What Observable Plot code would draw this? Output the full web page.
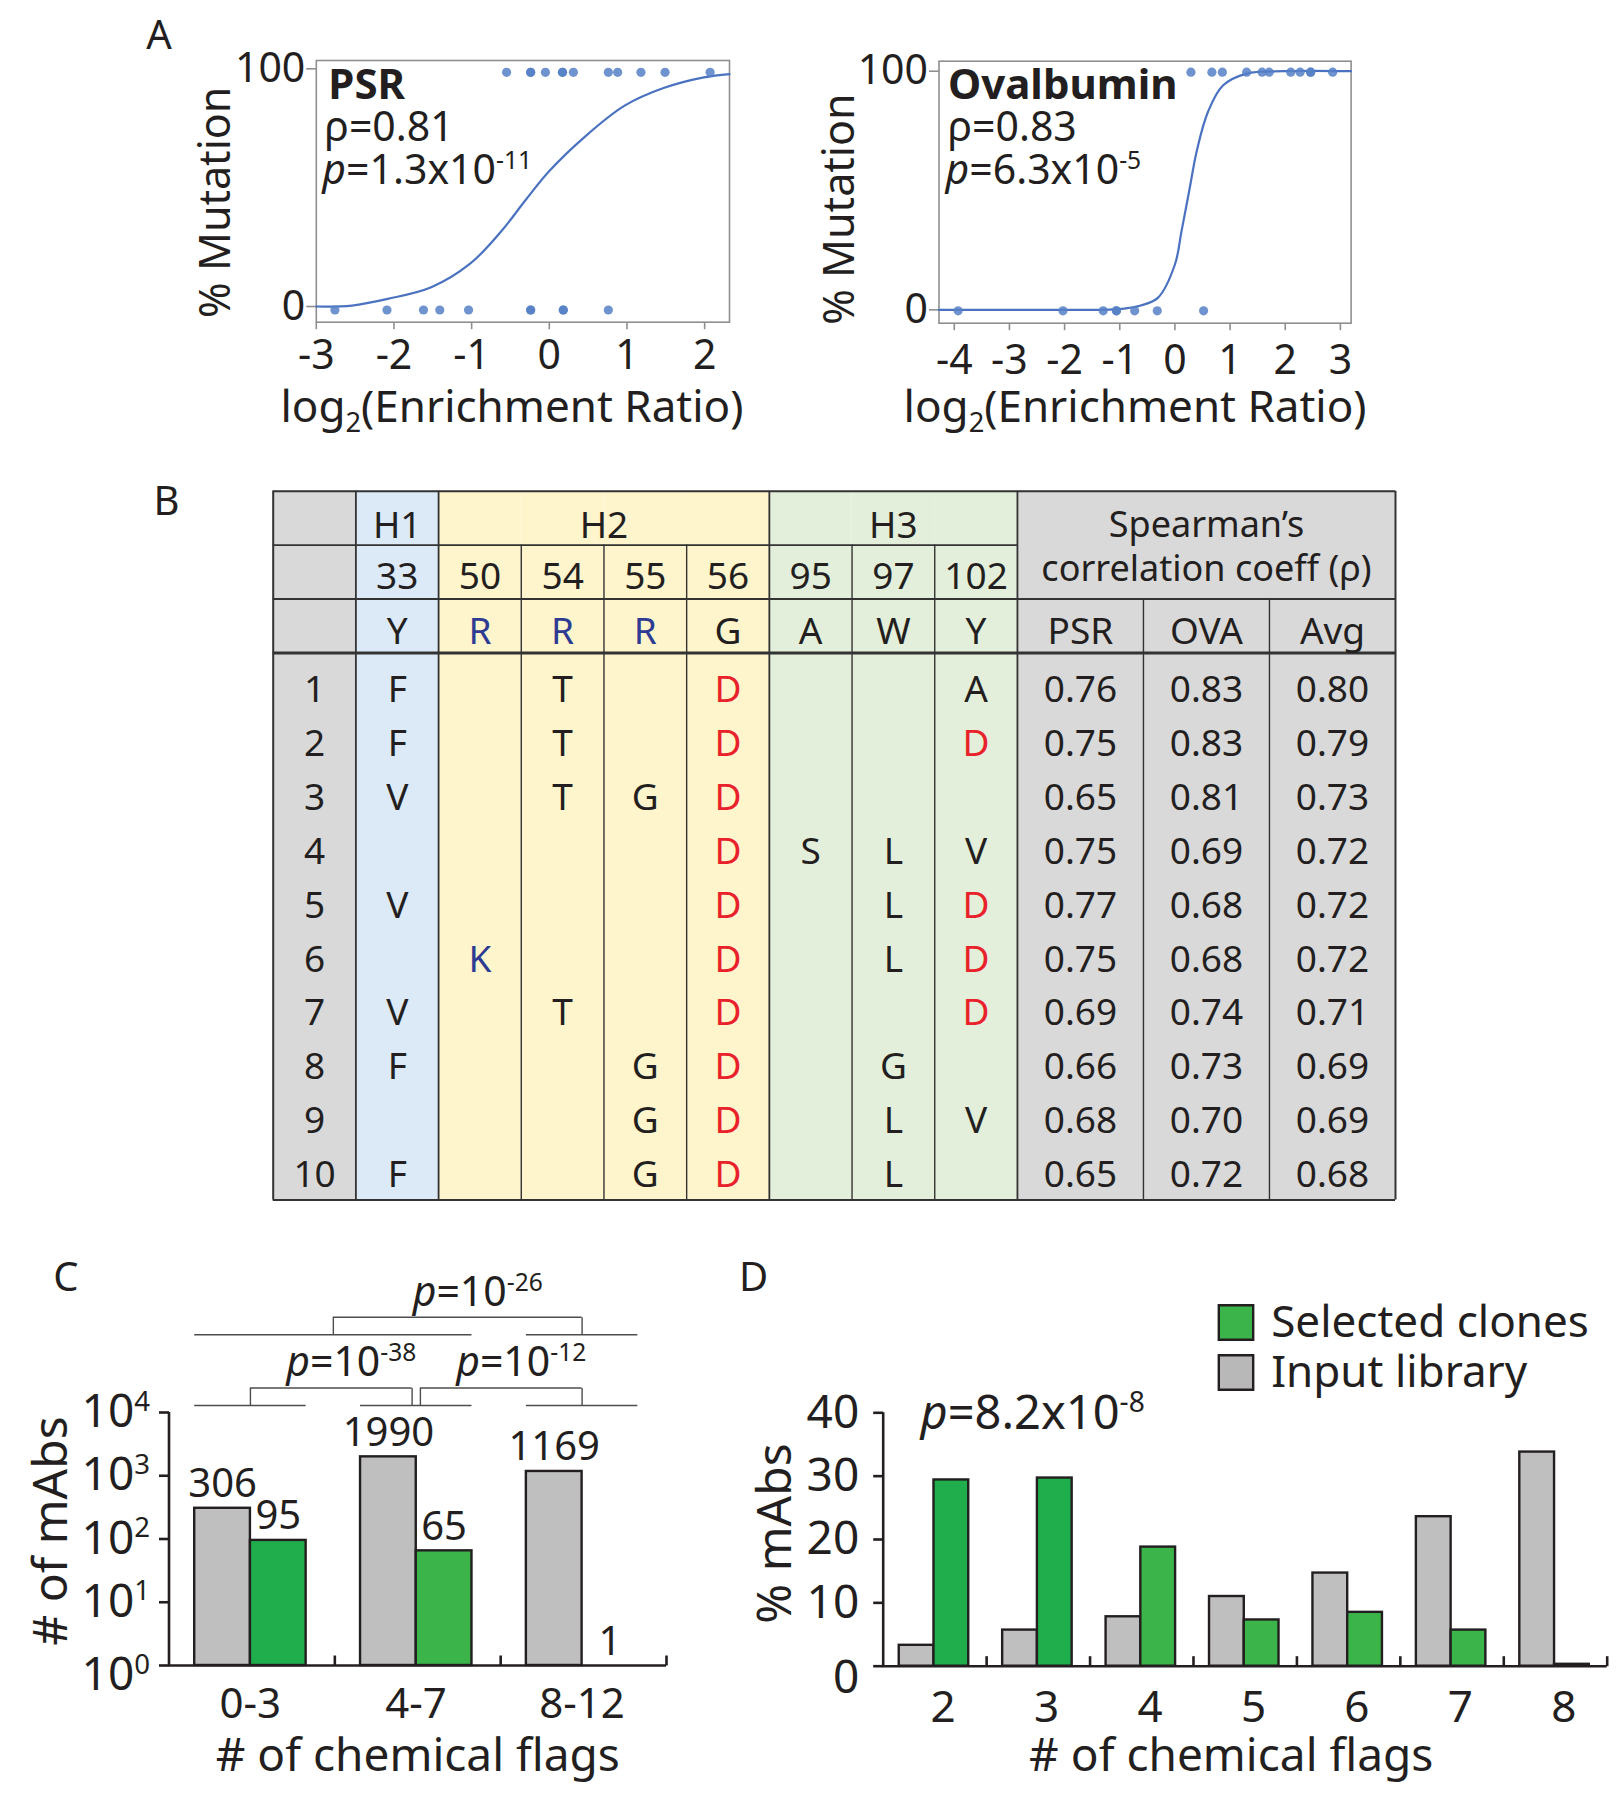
<!DOCTYPE html>
<html><head><meta charset="utf-8">
<script src="https://cdn.jsdelivr.net/npm/d3@7"></script>
<script src="https://cdn.jsdelivr.net/npm/@observablehq/plot@0.6"></script>
<style>
html,body{margin:0;padding:0;background:#fff;}
#fig{position:relative;width:1622px;height:1800px;background:#fff;overflow:hidden;}
</style></head><body><div id="fig"></div>
<script>
// ---------------- DATA ----------------
// Panel A (PSR)
const psrCurveX = [-3, -2.54, -2.08, -1.52, -1.02, -0.61, -0.31, 0, 0.46, 0.97, 1.48, 1.99, 2.32];
const psrCurveY = [0, 0.4, 3.2, 8.1, 18, 32, 44.6, 57, 71.5, 84.5, 92, 96.4, 97.8];
const psrMutatedX = [-0.55, -0.24, -0.24, -0.05, 0.17, 0.17, 0.31, 0.76, 0.88, 1.18, 1.49, 2.07];
const psrWildX = [-2.76, -2.09, -1.62, -1.41, -1.04, -0.24, -0.24, 0.18, 0.18, 0.76];
// Panel A (Ovalbumin)
const ovaCurveX = [-4.28, -2, -1, -0.62, -0.31, 0, 0.12, 0.26, 0.4, 0.6, 0.87, 1.3, 2, 3.19];
const ovaCurveY = [0, 0, 0.3, 1.8, 5, 19, 33, 50, 67, 83, 94, 99, 100, 100];
const ovaMutatedX = [0.29, 0.67, 0.86, 1.30, 1.58, 1.71, 2.10, 2.27, 2.46, 2.46, 2.86];
const ovaWildX = [-3.93, -2.03, -1.30, -1.06, -1.06, -0.73, -0.32, 0.52];

// Panel B (table)
const residuePositions = ["33", "50", "54", "55", "56", "95", "97", "102"];
const cdrOfPosition = ["H1", "H2", "H2", "H2", "H2", "H3", "H3", "H3"];
const wildTypeResidues = ["Y", "R", "R", "R", "G", "A", "W", "Y"];
const variantMutations = [
  ["F", "", "T", "", "D", "", "", "A"],
  ["F", "", "T", "", "D", "", "", "D"],
  ["V", "", "T", "G", "D", "", "", ""],
  ["", "", "", "", "D", "S", "L", "V"],
  ["V", "", "", "", "D", "", "L", "D"],
  ["", "K", "", "", "D", "", "L", "D"],
  ["V", "", "T", "", "D", "", "", "D"],
  ["F", "", "", "G", "D", "", "G", ""],
  ["", "", "", "G", "D", "", "L", "V"],
  ["F", "", "", "G", "D", "", "L", ""]
];
const spearmanColumns = ["PSR", "OVA", "Avg"];
const psrRho = [0.76, 0.75, 0.65, 0.75, 0.77, 0.75, 0.69, 0.66, 0.68, 0.65];
const ovaRho = [0.83, 0.83, 0.81, 0.69, 0.68, 0.68, 0.74, 0.73, 0.70, 0.72];
const avgRho = [0.80, 0.79, 0.73, 0.72, 0.72, 0.72, 0.71, 0.69, 0.69, 0.68];

// Panel C
const flagBins = ["0-3", "4-7", "8-12"];
const inputCounts = [306, 1990, 1169];
const selectedCounts = [95, 65, 1];
const cTestA = [["0-3"], ["4-7"], ["0-3", "4-7"]];
const cTestB = [["4-7"], ["8-12"], ["8-12"]];
const cTestExponent = [-38, -12, -26];
const cTestLevel = [0, 0, 1];
const cYTicks = [1, 10, 100, 1000, 10000];

// Panel D
const flagCounts = [2, 3, 4, 5, 6, 7, 8];
const inputPct = [3.3, 5.7, 7.8, 11.0, 14.7, 23.6, 33.8];
const selectedPct = [29.4, 29.7, 18.8, 7.3, 8.5, 5.7, 0.3];
const dYTicks = [0, 10, 20, 30, 40];
const legendLabels = ["Selected clones", "Input library"];

// ---------------- STYLE ----------------
const INK = "#231f20";
const FRAME_GRAY = "#8f8f8f";
const CURVE_BLUE = "#4a72c0";
const DOT_BLUE = "#5680c6";
const GRAY_BAR = "#bfbfbf";
const GREEN_DARK = "#1fae4b";
const GREEN = "#3bb44a";
const FONT = "'Noto Sans', 'Open Sans', sans-serif";
const style = fs => ({background: "transparent", color: INK, fontFamily: FONT, fontSize: fs + "px", overflow: "visible"});
const tickSym = (dx, dy) => ({draw(ctx) { ctx.moveTo(0, 0); ctx.lineTo(dx, dy); }});

const fig = document.getElementById("fig");
function place(svg, left, top) {
  svg.style.position = "absolute";
  svg.style.left = left + "px";
  svg.style.top = top + "px";
  fig.appendChild(svg);
  return svg;
}

// ---------------- PANEL A ----------------
function sigmoidPanel(o) {
  const xTicks = d3.range(o.xTickMin, o.xTickMax + 1);
  const yTicks = [0, 100];
  const curve = o.curveX.map((x, i) => ({x, y: o.curveY[i]}));
  const pts = [...o.hiX.map(x => ({x, y: 100})), ...o.loX.map(x => ({x, y: 0}))];
  const marks = [
    Plot.frame({stroke: FRAME_GRAY, strokeWidth: 1.6}),
    Plot.dot(xTicks, {x: d => d, y: o.yDomain[0], symbol: tickSym(0, 7), r: 5, fill: "none", stroke: FRAME_GRAY, strokeWidth: 1.6}),
    Plot.text(xTicks, {x: d => d, y: o.yDomain[0], text: d => String(d), dy: o.xTickDy, lineAnchor: "bottom", fontSize: 41, fill: INK}),
    Plot.dot(yTicks, {x: o.xDomain[0], y: d => d, symbol: tickSym(-10, 0), r: 5, fill: "none", stroke: FRAME_GRAY, strokeWidth: 1.6}),
    Plot.text(yTicks, {x: o.xDomain[0], y: d => d, text: d => String(d), dx: -11, textAnchor: "end", lineAnchor: "middle", fontSize: 41, fill: INK}),
    Plot.line(curve, {x: "x", y: "y", curve: "catmull-rom", stroke: CURVE_BLUE, strokeWidth: 2.2}),
    Plot.dot(pts, {x: "x", y: "y", r: 4.6, fill: DOT_BLUE, fillOpacity: 0.85, dy: o.dotDy}),
    Plot.text([o.name], {text: d => d, frameAnchor: "top-left", dx: o.nameDx, dy: o.nameDy, textAnchor: "start", lineAnchor: "bottom", fontWeight: "bold", fontSize: 42, fill: INK}),
    Plot.text([o.rho], {text: d => d, frameAnchor: "top-left", dx: o.rhoDx, dy: o.rhoDy, textAnchor: "start", lineAnchor: "bottom", fontSize: 41, fill: INK}),
    Plot.text([o.p], {text: d => d, frameAnchor: "top-left", dx: o.pDx, dy: o.pDy, textAnchor: "start", lineAnchor: "bottom", fontSize: 41, fill: INK}),
    Plot.text(["% Mutation"], {text: d => d, frameAnchor: "left", rotate: -90, dx: o.yLabDx, dy: o.yLabDy, textAnchor: "middle", lineAnchor: "bottom", fontSize: 43, fill: INK}),
    Plot.text(["log<sub>2</sub>(Enrichment Ratio)"], {text: d => d, frameAnchor: "bottom", dx: o.xLabDx, dy: o.xLabDy, textAnchor: "middle", lineAnchor: "bottom", fontSize: 44, fill: INK})
  ];
  if (o.letter) marks.push(Plot.text([o.letter], {text: d => d, frameAnchor: "top-left", dx: -170, dy: -11.7, textAnchor: "start", lineAnchor: "bottom", fontSize: 40, fill: INK}));
  return Plot.plot({
    width: o.width, height: o.height,
    marginLeft: o.mL, marginRight: o.mR, marginTop: o.mT, marginBottom: o.mB,
    x: {domain: o.xDomain, axis: null}, y: {domain: o.yDomain, axis: null},
    style: style(40),
    marks
  });
}

place(sigmoidPanel({
  width: 760, height: 450, mL: 315.8, mR: 31, mT: 60, mB: 128.3,
  xDomain: [-3, 2.32], yDomain: [-6.6, 103.5], xTickMin: -3, xTickMax: 2, xTickDy: 47, dotDy: 3.5,
  curveX: psrCurveX, curveY: psrCurveY, hiX: psrMutatedX, loX: psrWildX,
  name: "PSR", nameDx: 12, nameDy: 38.3,
  rho: "ρ=0.81", rhoDx: 8, rhoDy: 80,
  p: "<i>p</i>=1.3x10<sup>-11</sup>", pDx: 6, pDy: 123.3,
  yLabDx: -85.8, yLabDy: 11, xLabDx: -11, xLabDy: 99.3, letter: "A"
}), 0, 0);

place(sigmoidPanel({
  width: 862, height: 450, mL: 178.5, mR: 271.4, mT: 60.7, mB: 127.3,
  xDomain: [-4.277, 3.194], yDomain: [-5.6, 104.2], xTickMin: -4, xTickMax: 3, xTickDy: 51, dotDy: 1,
  curveX: ovaCurveX, curveY: ovaCurveY, hiX: ovaMutatedX, loX: ovaWildX,
  name: "Ovalbumin", nameDx: 9, nameDy: 37.6,
  rho: "ρ=0.83", rhoDx: 8.4, rhoDy: 79.3,
  p: "<i>p</i>=6.3x10<sup>-5</sup>", pDx: 6.5, pDy: 122.6,
  yLabDx: -85.5, yLabDy: 17, xLabDx: -10, xLabDy: 98.3
}), 760, 0);

// ---------------- PANEL B (table) ----------------
{
  const colWeights = [1, ...residuePositions.map(() => 1), ...spearmanColumns.map(() => 1.524)];
  const edges = Array.from(d3.cumsum([0, ...colWeights]));
  const nCols = colWeights.length;
  const TOTAL = edges[nCols];
  const HEADER = 3, GAP = 0.15, NROWS = variantMutations.length;
  const YMAX = HEADER + GAP + NROWS;
  const groupOf = c => c === 0 ? "label" : c <= residuePositions.length ? cdrOfPosition[c - 1] : "Spearman";
  const FILL = {label: "#d9d9d9", H1: "#dceaf7", H2: "#fff5cc", H3: "#e3efda", Spearman: "#d9d9d9"};
  const resColor = r => "DE".includes(r) ? "#e8212a" : "KRH".includes(r) ? "#2e3b93" : INK;
  const cols = d3.range(nCols);
  const mid = c => (edges[c] + edges[c + 1]) / 2;
  const rowY = i => HEADER + GAP + 0.5 + i;

  const hLines = [
    {y: 0, x1: 0, x2: TOTAL, w: 2}, {y: 1, x1: 0, x2: edges[residuePositions.length + 1], w: 1.8},
    {y: 2, x1: 0, x2: TOTAL, w: 1.8}, {y: HEADER, x1: 0, x2: TOTAL, w: 3}, {y: YMAX, x1: 0, x2: TOTAL, w: 2}
  ];
  const vLines = [{x: 0, y1: 0, w: 2}, {x: TOTAL, y1: 0, w: 2}];
  for (let c = 1; c < nCols; c++) {
    const a = groupOf(c - 1), b = groupOf(c);
    vLines.push({x: edges[c], y1: a !== b ? 0 : b === "Spearman" ? 2 : 1, w: a !== b ? 1.8 : 1.4});
  }
  const cdrGroups = Array.from(new Set(cdrOfPosition)).map(g => {
    const idx = cdrOfPosition.map((v, i) => v === g ? i + 1 : -1).filter(i => i >= 0);
    return {g, x: (edges[d3.min(idx)] + edges[d3.max(idx) + 1]) / 2};
  });
  const spX = (edges[residuePositions.length + 1] + TOTAL) / 2;
  const cells = [];
  variantMutations.forEach((row, i) => {
    cells.push({c: 0, i, t: String(i + 1), fill: INK});
    row.forEach((m, k) => { if (m) cells.push({c: k + 1, i, t: m, fill: resColor(m)}); });
    [psrRho, ovaRho, avgRho].forEach((arr, k) => cells.push({c: residuePositions.length + 1 + k, i, t: arr[i].toFixed(2), fill: INK}));
  });
  const wtCells = [
    ...wildTypeResidues.map((r, k) => ({c: k + 1, t: r, fill: resColor(r)})),
    ...spearmanColumns.map((s, k) => ({c: residuePositions.length + 1 + k, t: s, fill: INK}))
  ];
  const T = 37;
  place(Plot.plot({
    width: 1320, height: 740, marginLeft: 172.7, marginRight: 25, marginTop: 20.7, marginBottom: 10.5,
    x: {domain: [0, TOTAL], axis: null}, y: {domain: [0, YMAX], reverse: true, axis: null},
    style: style(T),
    marks: [
      Plot.rect(cols, {x1: c => edges[c], x2: c => edges[c + 1], y1: 0, y2: YMAX, fill: c => FILL[groupOf(c)]}),
      Plot.ruleX(vLines, {x: "x", y1: "y1", y2: YMAX, stroke: "#333", strokeWidth: "w"}),
      Plot.ruleY(hLines, {y: "y", x1: "x1", x2: "x2", stroke: "#333", strokeWidth: "w"}),
      Plot.text(cdrGroups, {x: "x", y: 0.5, text: "g", dy: 7.8, lineAnchor: "middle", fontSize: T, fill: INK}),
      Plot.text(["Spearman’s"], {text: d => d, x: spX, y: 0.5, dy: 7.8, lineAnchor: "middle", fontSize: 36, fill: INK}),
      Plot.text(["correlation coeff (ρ)"], {text: d => d, x: spX, y: 1.5, dy: -3, lineAnchor: "middle", fontSize: 36, fill: INK}),
      Plot.text(residuePositions, {x: (d, k) => mid(k + 1), y: 1.5, text: d => d, dy: 5.6, lineAnchor: "middle", fontSize: T, fill: INK}),
      Plot.text(wtCells, {x: d => mid(d.c), y: 2.5, text: "t", fill: "fill", dy: 5.9, lineAnchor: "middle", fontSize: T}),
      Plot.text(cells, {x: d => mid(d.c), y: d => rowY(d.i), text: "t", fill: "fill", dy: 2.3, lineAnchor: "middle", fontSize: T}),
      Plot.text(["B"], {text: d => d, frameAnchor: "top-left", dx: -119.7, dy: 23.3, textAnchor: "start", lineAnchor: "bottom", fontSize: 40, fill: INK})
    ]
  }), 100, 470);
}

// ---------------- shared bar helpers ----------------
const SLOT = {input: [0.155, 0.491], selected: [0.491, 0.827]};

// ---------------- PANEL C ----------------
{
  const greenShade = [GREEN_DARK, GREEN, GREEN];
  const bars = flagBins.flatMap((g, i) => [
    {i, s: "input", v: inputCounts[i], fill: GRAY_BAR},
    {i, s: "selected", v: selectedCounts[i], fill: greenShade[i]}
  ]);
  const span = gs => { const idx = gs.map(g => flagBins.indexOf(g)); return [d3.min(idx) + SLOT.input[0], d3.max(idx) + SLOT.selected[1]]; };
  const UNDER_DY = [-7, -77.7], DROP = 17.5, TEXT_DY = [-37, -107], NUDGE = 0.025;
  const same = (a, b) => a.join() === b.join();
  const underlines = [], seen = new Set(), brackets = [];
  cTestA.forEach((A, t) => {
    const B = cTestB[t], L = cTestLevel[t];
    for (const gs of [A, B]) {
      const k = L + "|" + gs.join();
      if (!seen.has(k)) { seen.add(k); const [x1, x2] = span(gs); underlines.push({x1, x2, L}); }
    }
    const sa = span(A), sb = span(B);
    let xa = (sa[0] + sa[1]) / 2, xb = (sb[0] + sb[1]) / 2;
    if (cTestA.some((A2, u) => u !== t && cTestLevel[u] === L && same(A2, B))) xb -= NUDGE;
    if (cTestB.some((B2, u) => u !== t && cTestLevel[u] === L && same(B2, A))) xa += NUDGE;
    brackets.push({x1: xa, x2: xb, xc: (xa + xb) / 2, L, label: `<i>p</i>=10<sup>${cTestExponent[t]}</sup>`});
  });
  const bracketMarks = [0, 1].flatMap(L => {
    const u = underlines.filter(d => d.L === L), b = brackets.filter(d => d.L === L);
    const ends = b.flatMap(d => [d.x1, d.x2]);
    const st = {stroke: "#4d4d4d", strokeWidth: 1.4};
    return [
      Plot.ruleY(u, {y: 1e4, x1: "x1", x2: "x2", dy: UNDER_DY[L], ...st}),
      Plot.ruleY(b, {y: 1e4, x1: "x1", x2: "x2", dy: UNDER_DY[L] - DROP, ...st}),
      Plot.dot(ends, {x: d => d, y: 1e4, symbol: tickSym(0, -DROP), r: 5, fill: "none", dy: UNDER_DY[L], ...st}),
      Plot.text(b, {x: "xc", y: 1e4, text: "label", dx: 20, dy: TEXT_DY[L], lineAnchor: "bottom", fontSize: 41, fill: INK})
    ];
  });
  const ax = {stroke: INK, strokeWidth: 2.6};
  place(Plot.plot({
    width: 700, height: 560, marginLeft: 168.5, marginRight: 34, marginTop: 172, marginBottom: 135,
    x: {domain: [0, flagBins.length], axis: null},
    y: {type: "log", domain: [1, 1e4], axis: null},
    style: style(46),
    marks: [
      Plot.rect(bars, {x1: d => d.i + SLOT[d.s][0], x2: d => d.i + SLOT[d.s][1], y1: 1, y2: "v", fill: "fill", stroke: INK, strokeWidth: 2.4}),
      Plot.text(bars, {x: d => d.i + (SLOT[d.s][0] + SLOT[d.s][1]) / 2, y: "v", text: d => String(d.v), dy: -11, lineAnchor: "bottom", fontSize: 40, fill: INK}),
      Plot.ruleX([0], {y1: 1, y2: 1e4, ...ax}),
      Plot.ruleY([1], {x1: 0, x2: flagBins.length, ...ax}),
      Plot.dot(cYTicks, {x: 0, y: d => d, symbol: tickSym(-10, 0), r: 5, fill: "none", ...ax}),
      Plot.dot(d3.range(1, flagBins.length + 1), {x: d => d, y: 1, symbol: tickSym(0, -10), r: 5, fill: "none", ...ax}),
      Plot.text(cYTicks.filter(d => d > 1), {x: 0, y: d => d, text: d => `10<sup>${Math.round(Math.log10(d))}</sup>`, dx: -19, textAnchor: "end", lineAnchor: "middle", fontSize: 46, fill: INK}),
      Plot.text(cYTicks.filter(d => d === 1), {x: 0, y: d => d, text: d => `10<sup>${Math.round(Math.log10(d))}</sup>`, dx: -19, dy: 10, textAnchor: "end", lineAnchor: "middle", fontSize: 46, fill: INK}),
      Plot.text(flagBins, {x: (d, i) => i + 0.49, y: 1, text: d => d, dy: 52.5, lineAnchor: "bottom", fontSize: 42, fill: INK}),
      Plot.text(["# of chemical flags"], {text: d => d, frameAnchor: "bottom", dy: 105, lineAnchor: "bottom", fontSize: 46, fill: INK}),
      Plot.text(["# of mAbs"], {text: d => d, frameAnchor: "left", rotate: -90, dx: -102.5, dy: -8, textAnchor: "middle", lineAnchor: "bottom", fontSize: 48, fill: INK}),
      Plot.text(["C"], {text: d => d, frameAnchor: "top-left", dx: -115.7, dy: -122, textAnchor: "start", lineAnchor: "bottom", fontSize: 40, fill: INK}),
      ...bracketMarks
    ]
  }), 0, 1240);
}

// ---------------- PANEL D ----------------
{
  const greenShade = [GREEN_DARK, GREEN_DARK, GREEN, GREEN, GREEN, GREEN, GREEN];
  const bars = flagCounts.flatMap((f, i) => [
    {i, s: "input", v: inputPct[i], fill: GRAY_BAR},
    {i, s: "selected", v: selectedPct[i], fill: greenShade[i]}
  ]);
  const n = flagCounts.length;
  const ax = {stroke: INK, strokeWidth: 2.6};
  place(Plot.plot({
    width: 902, height: 560, marginLeft: 162.7, marginRight: 15.3, marginTop: 172.3, marginBottom: 134.3,
    x: {domain: [0, n], axis: null},
    y: {domain: [0, 40], axis: null},
    style: style(46),
    marks: [
      Plot.rect(bars, {x1: d => d.i + SLOT[d.s][0], x2: d => d.i + SLOT[d.s][1], y1: 0, y2: "v", fill: "fill", stroke: INK, strokeWidth: 2.4}),
      Plot.ruleX([0], {y1: 0, y2: 40, ...ax}),
      Plot.ruleY([0], {x1: 0, x2: n, ...ax}),
      Plot.dot(dYTicks, {x: 0, y: d => d, symbol: tickSym(-10, 0), r: 5, fill: "none", ...ax}),
      Plot.dot(d3.range(1, n + 1), {x: d => d, y: 0, symbol: tickSym(0, -10), r: 5, fill: "none", ...ax}),
      Plot.text(dYTicks.filter(d => d > 0), {x: 0, y: d => d, text: d => String(d), dx: -24, textAnchor: "end", lineAnchor: "middle", fontSize: 46, fill: INK}),
      Plot.text(dYTicks.filter(d => d === 0), {x: 0, y: d => d, text: d => String(d), dx: -24, dy: 12, textAnchor: "end", lineAnchor: "middle", fontSize: 46, fill: INK}),
      Plot.text(flagCounts, {x: (d, i) => i + 0.58, y: 0, text: d => String(d), dy: 55.3, lineAnchor: "bottom", fontSize: 44, fill: INK}),
      Plot.text(["# of chemical flags"], {text: d => d, frameAnchor: "bottom", dx: -14, dy: 104.3, lineAnchor: "bottom", fontSize: 46, fill: INK}),
      Plot.text(["% mAbs"], {text: d => d, frameAnchor: "left", rotate: -90, dx: -92.7, dy: -6, textAnchor: "middle", lineAnchor: "bottom", fontSize: 48, fill: INK}),
      Plot.text(["<i>p</i>=8.2x10<sup>-8</sup>"], {text: d => d, frameAnchor: "top-left", dx: 37.3, dy: 16, textAnchor: "start", lineAnchor: "bottom", fontSize: 47, fill: INK}),
      Plot.text(["D"], {text: d => d, frameAnchor: "top-left", dx: -144.2, dy: -122.3, textAnchor: "start", lineAnchor: "bottom", fontSize: 40, fill: INK})
    ]
  }), 720, 1240);

  // legend
  const legendFill = [GREEN, "#b8b8b8"];
  place(Plot.plot({
    width: 422, height: 120, marginLeft: 35.5, marginRight: 300, marginTop: 32.2, marginBottom: 37.8,
    x: {domain: [0, 1], axis: null},
    y: {type: "point", domain: legendLabels, padding: 0, axis: null},
    style: style(44),
    marks: [
      Plot.dot(legendLabels, {x: 0, y: d => d, symbol: "square", r: 19.4, fill: (d, i) => legendFill[i], stroke: INK, strokeWidth: 2.4}),
      Plot.text(legendLabels, {x: 0, y: d => d, text: d => d, dx: 35.2, textAnchor: "start", lineAnchor: "middle", fontSize: 44, fill: INK})
    ]
  }), 1200, 1290);
}

// ---------------- rich text (italic / super / subscript) ----------------
function richify(root) {
  const NS = "http://www.w3.org/2000/svg";
  root.querySelectorAll("text").forEach(t => {
    const s = t.textContent;
    if (!/<(sup|sub|i)>/.test(s)) return;
    const fs = parseFloat(getComputedStyle(t).fontSize) || 40;
    while (t.firstChild) t.removeChild(t.firstChild);
    const parts = s.split(/(<sup>.*?<\/sup>|<sub>.*?<\/sub>|<i>.*?<\/i>)/).filter(p => p !== "");
    let shift = 0;
    for (const p of parts) {
      const ts = document.createElementNS(NS, "tspan");
      let m, target = 0;
      if ((m = p.match(/^<sup>(.*)<\/sup>$/))) { ts.textContent = m[1]; ts.setAttribute("font-size", (fs * 0.6).toFixed(1)); target = -0.36 * fs; }
      else if ((m = p.match(/^<sub>(.*)<\/sub>$/))) { ts.textContent = m[1]; ts.setAttribute("font-size", (fs * 0.62).toFixed(1)); target = 0.24 * fs; }
      else if ((m = p.match(/^<i>(.*)<\/i>$/))) { ts.textContent = m[1]; ts.setAttribute("font-style", "italic"); }
      else ts.textContent = p;
      if (Math.abs(target - shift) > 1e-6) { ts.setAttribute("dy", (target - shift).toFixed(2)); shift = target; }
      t.appendChild(ts);
    }
  });
}
richify(fig);
</script></body></html>
